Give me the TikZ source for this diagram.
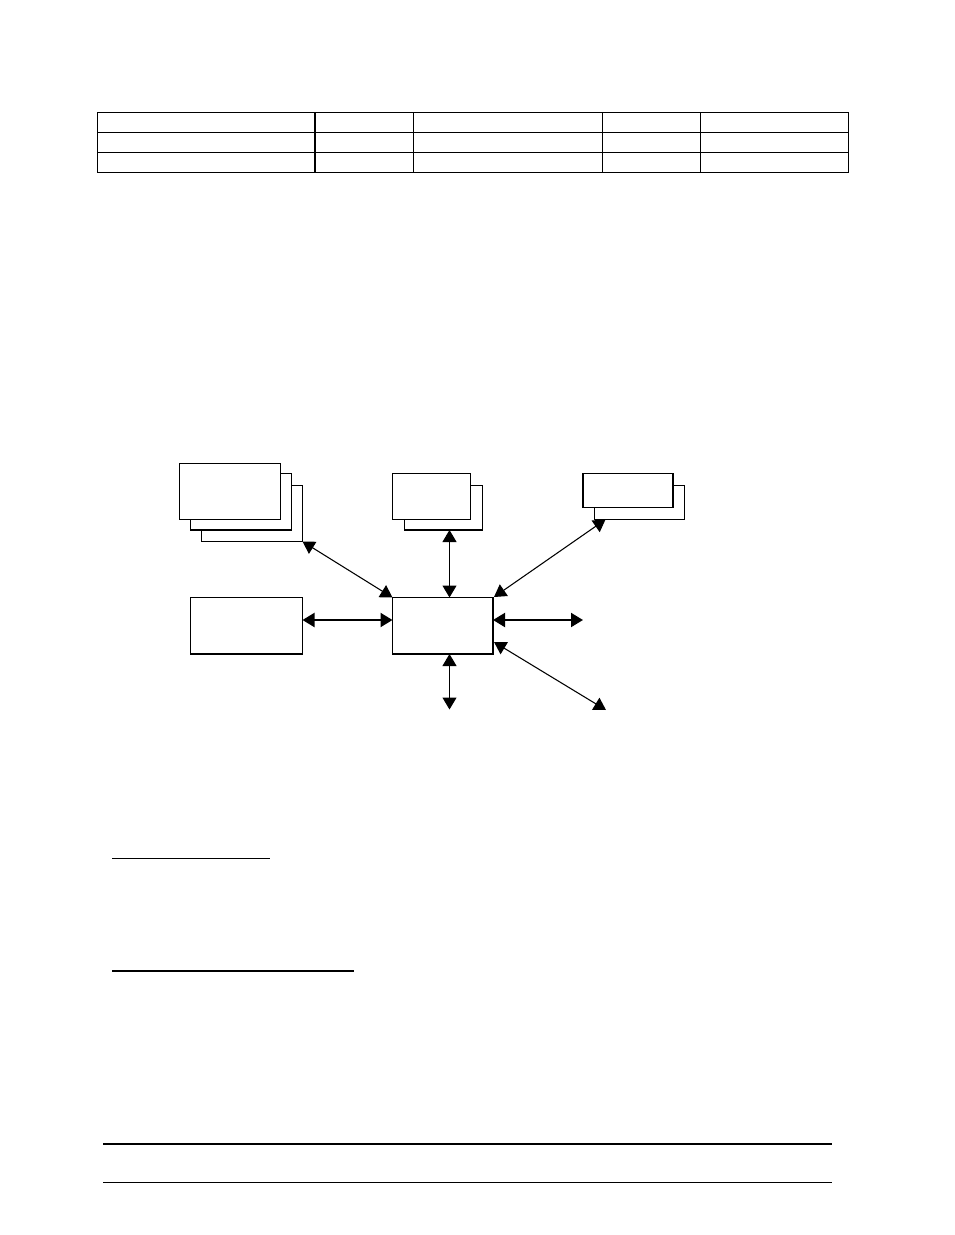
\documentclass[tikz,border=0pt]{standalone}
\usetikzlibrary{arrows.meta,fit}
\tikzset{
  px/.style={x=0.75pt,y=-0.75pt},
  box/.style={draw=black,fill=white,line width=0.8pt,inner sep=0pt,outer sep=0pt,rectangle},
  heavy/.style={draw=black,line width=1.5pt},
  dbl/.style={line width=0.8pt,{Triangle[length=9pt,width=10.5pt]}-{Triangle[length=9pt,width=10.5pt]}},
  dblthick/.style={dbl,line width=1.5pt},
  tbl/.style={draw=black,line width=0.8pt},
  rulea/.style={draw=black,line width=1.3pt},
  ruleb/.style={draw=black,line width=1.5pt},
  rulec/.style={draw=black,line width=2pt},
  ruled/.style={draw=black,line width=0.8pt}
}
\begin{document}
\begin{tikzpicture}[px]
\useasboundingbox[fill=white] (0,0) rectangle (954,1235);
% table
\draw[tbl] (97.5,112.5) rectangle (848.5,172.5);
\draw[tbl] (97.5,132.5) -- (848.5,132.5);
\draw[tbl] (97.5,152.5) -- (848.5,152.5);
\draw[ruleb] (315,112.5) -- (315,172.5);
\draw[tbl] (413.5,112.5) -- (413.5,172.5);
\draw[tbl] (602.5,112.5) -- (602.5,172.5);
\draw[tbl] (700.5,112.5) -- (700.5,172.5);
% first stack
\node[box,fit={(201.5,485.5)(302.5,541.5)}] (backA) {};
\node[box,fit={(190.5,473.5)(291.5,530)}] (midA) {};
\draw[heavy] (midA.south west) -- (midA.south east);
\node[box,fit={(179.5,463.5)(280.5,519.5)}] (frontA) {};
% second stack
\node[box,fit={(404.5,485.5)(482.5,530)}] (backB) {};
\draw[heavy] (backB.south west) -- (backB.south east);
\node[box,fit={(392.5,473.5)(470.5,519.5)}] (frontB) {};
% third stack
\node[box,fit={(594.5,485.5)(684.5,519.5)}] (backC) {};
\node[box,fit={(583,473.5)(673,507.5)}] (frontC) {};
\draw[heavy] (frontC.north west) -- (frontC.south west);
\draw[heavy] (frontC.north east) -- (frontC.south east);
% left box and hub
\node[box,fit={(190.5,597.5)(302.5,654)}] (left) {};
\draw[heavy] (left.south west) -- (left.south east);
\node[box,fit={(392.5,597.5)(493,654)}] (hub) {};
\draw[heavy] (hub.south west) -- (hub.south east) -- (hub.north east);
% free ends and guides
\coordinate (vx) at (449.5,0);
\coordinate (vy) at (0,620);
\coordinate (endC) at (605.5,519.5);
\coordinate (hubC) at (494,597);
\coordinate (endE) at (583,620);
\coordinate (hubF) at (494,642);
\coordinate (endF) at (606,710);
\coordinate (endG) at (449.5,709.5);
% connectors
\draw[dbl] (backA.south east) -- (hub.north west);
\draw[dbl] (backB.south -| vx) -- (hub.north -| vx);
\draw[dbl] (endC) -- (hubC);
\draw[dblthick] (left.east |- vy) -- (hub.west |- vy);
\draw[dblthick] (hub.east |- vy) -- (endE);
\draw[dbl] (hubF) -- (endF);
\draw[dbl] (hub.south -| vx) -- (endG);
% rules
\draw[rulea] (112,858.5) -- (270,858.5);
\draw[ruleb] (112,971) -- (354,971);
\draw[rulec] (103,1144) -- (832,1144);
\draw[ruled] (103,1182.5) -- (832,1182.5);
\end{tikzpicture}
\end{document}
